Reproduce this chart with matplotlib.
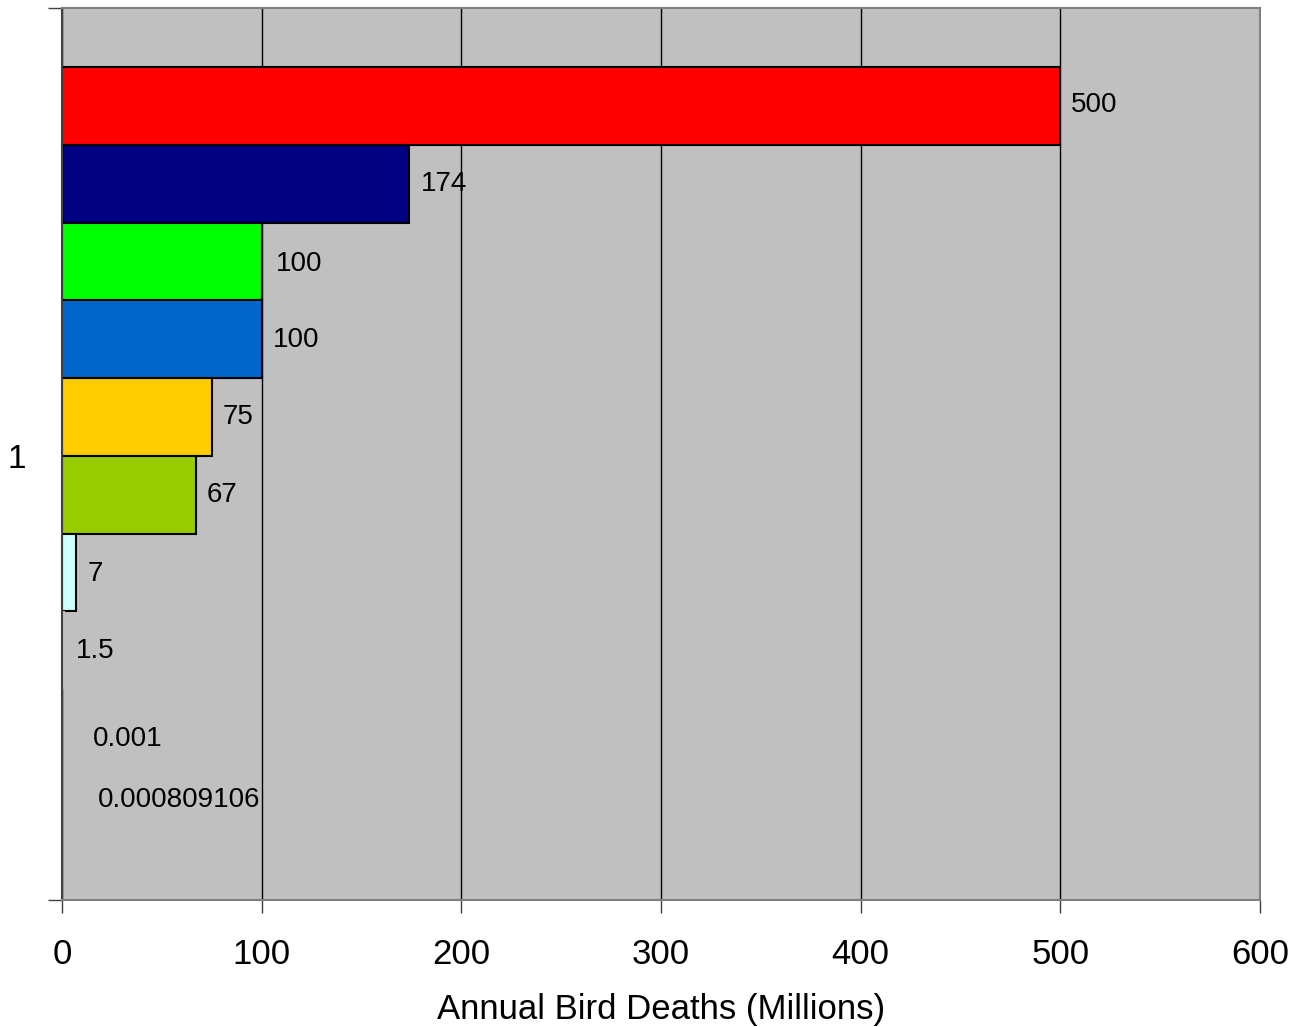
import numpy as np
import matplotlib.pyplot as plt

plt.rcParams.update({
    "font.family": ["Liberation Sans", "DejaVu Sans"],
})

# annual bird deaths (millions), one series per cause, top to bottom
values = [500, 174, 100, 100, 75, 67, 7, 1.5, 0.001, 0.000809106]
labels = ["500", "174", "100", "100", "75", "67", "7", "1.5", "0.001", "0.000809106"]
colors = ["#FF0000", "#000080", "#00FF00", "#0066CC", "#FFCC00",
          "#99CC00", "#CCFFFF", "#C0C0C0", "#FF00FF", "#800080"]
xticks = [0, 100, 200, 300, 400, 500, 600]
category = "1"

# label offsets in pixels (right, down) -- hand placed like the original
lab_dx = [11, 11, 14, 11, 11, 11, 12, 11, 31, 36]
lab_dy = [-1, 0, 2, 1, 0, 0, 1, 1, 11, -6]

fig = plt.figure(figsize=(12.93, 10.27), dpi=100)
ax = fig.add_axes([62/1293, 1-900/1027, (1260-62)/1293, (900-8)/1027])
ax.set_facecolor("#C0C0C0")

n = len(values)
ypos = np.arange(n)
for i in range(n):
    lw = 1.5 if values[i] > 2 else 0
    ax.barh(ypos[i], values[i], height=1.0, color=colors[i],
            edgecolor="black", linewidth=lw, zorder=3)
    ax.annotate(labels[i], (values[i], ypos[i]),
                xytext=(lab_dx[i]*0.72, -lab_dy[i]*0.72), textcoords="offset points",
                ha="left", va="center", fontsize=20, zorder=4)

gap_top, gap_bot = 0.76, 0.71
ax.set_ylim(n - 0.5 + gap_bot, -0.5 - gap_top)
ax.set_xlim(0, 600)

ax.set_xticks(xticks)
ax.set_xticklabels([str(t) for t in xticks], fontsize=25)
ax.tick_params(axis="x", direction="out", length=9, width=1, color="#404040", pad=18)
ax.xaxis.grid(True, color="black", linewidth=1, zorder=1)
ax.set_axisbelow(True)

ax.set_yticks([n - 0.5 + gap_bot, -0.5 - gap_top])
ax.set_yticklabels([])
ax.set_yticks([(n - 1) / 2], minor=True)
ax.set_yticklabels([category], minor=True, fontsize=24)
ax.tick_params(axis="y", which="major", direction="out", length=10, width=1, color="#404040")
ax.tick_params(axis="y", which="minor", length=0, pad=26)

for s in ax.spines.values():
    s.set_color("#808080")
    s.set_linewidth(1.5)
    s.set_zorder(5)
ax.spines["left"].set_color("#404040")

ax.set_xlabel("Annual Bird Deaths (Millions)", fontsize=25, labelpad=16)

fig.savefig("out.png", dpi=100)
